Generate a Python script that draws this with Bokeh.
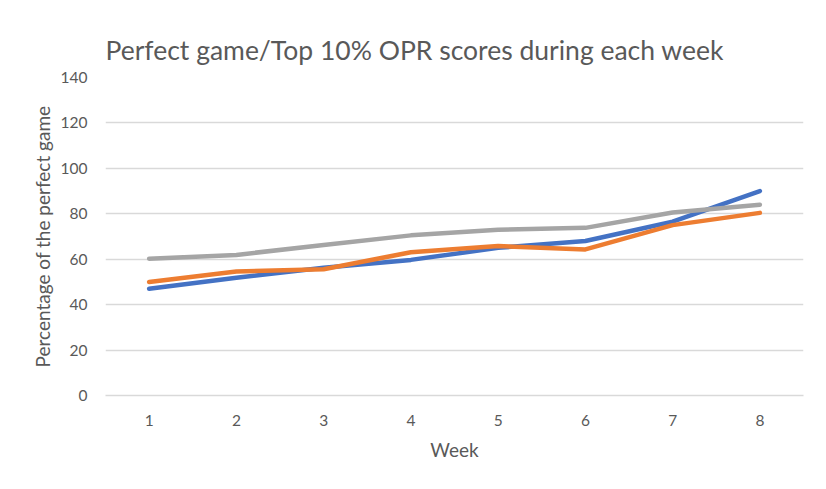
from bokeh.plotting import figure
from bokeh.models import Range1d, FixedTicker, Title
from bokeh.embed import file_html
from bokeh.resources import INLINE

weeks = [1, 2, 3, 4, 5, 6, 7, 8]
series_blue = [47.0, 51.8, 56.2, 59.7, 65.0, 68.0, 76.5, 90.0]
series_orange = [50.0, 54.6, 55.6, 63.1, 65.8, 64.3, 75.0, 80.4]
series_gray = [60.2, 61.9, 66.3, 70.5, 73.0, 73.8, 80.6, 84.0]
y_ticks = [0, 20, 40, 60, 80, 100, 120, 140]
title_text = "Perfect game/Top 10% OPR scores during each week"

FONT = "Lato"
TXT = "#595959"

p = figure(width=810, height=473, output_backend="svg", toolbar_location=None,
           x_range=Range1d(0.5, 8.5), y_range=Range1d(0, 140),
           min_border_left=105, min_border_right=7, min_border_top=77, min_border_bottom=78)
p.title = Title(text=title_text, text_font=FONT, text_font_size="26.5px",
                text_font_style="normal", text_color=TXT, align="left", offset=0)
# thin spacer panel between the title and the plot area
p.add_layout(Title(text=" ", text_font_size="4px", standoff=0), "above")
p.outline_line_color = None
p.border_fill_color = "white"

for ys, c in [(series_blue, "#4472C4"), (series_orange, "#ED7D31"), (series_gray, "#A5A5A5")]:
    p.line(weeks, ys, line_color=c, line_width=4.5, line_cap="round", line_join="round")

p.xaxis.ticker = FixedTicker(ticks=weeks)
p.yaxis.ticker = FixedTicker(ticks=y_ticks)
p.xgrid.grid_line_color = None
p.ygrid.grid_line_color = "#D9D9D9"
p.ygrid.grid_line_width = 1.3

for ax in (p.xaxis, p.yaxis):
    ax.major_tick_line_color = None
    ax.minor_tick_line_color = None
    ax.major_label_text_font = FONT
    ax.major_label_text_font_size = "15.5px"
    ax.major_label_text_color = TXT
    ax.axis_label_text_font = FONT
    ax.axis_label_text_font_size = "19px"
    ax.axis_label_text_font_style = "normal"
    ax.axis_label_text_color = TXT
p.yaxis.axis_line_color = None
p.xaxis.axis_line_color = "#D9D9D9"
p.xaxis.axis_line_width = 1.3
p.xaxis.axis_label = "Week"
p.yaxis.axis_label = "Percentage of the perfect game"
p.yaxis.major_label_standoff = 12
p.xaxis.major_label_standoff = 13
p.xaxis.axis_label_standoff = 9
p.yaxis.axis_label_standoff = 4

open("out.html", "w").write(file_html(p, INLINE))
